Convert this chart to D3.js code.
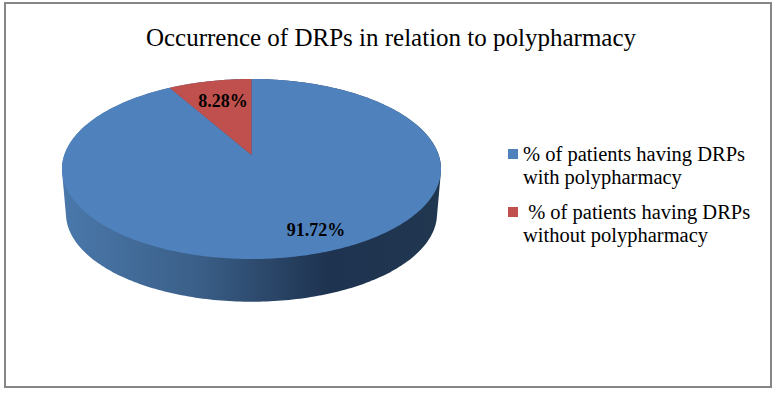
<!DOCTYPE html>
<html>
<head>
<meta charset="utf-8">
<script src="https://cdn.jsdelivr.net/npm/d3@7"></script>
<style>
    html, body { margin: 0; padding: 0; background: #fff; }
    svg { display: block; }
    text { font-family: "Liberation Serif", serif; fill: #000; }
</style>
</head>
<body>
<div id="box-div"></div>
<script>
const titleText = 'Occurrence of DRPs in relation to polypharmacy';
const categories = ['with', 'without'];
const values = [91.72, 8.28];
const valueLabels = ['91.72%', '8.28%'];
const legendLines = [
    ['% of patients having DRPs', 'with polypharmacy'],
    [' % of patients having DRPs', 'without polypharmacy']
];
const colors = ['#4f81bd', '#c0504d'];

let dms = { width: 777, height: 393 };

const box = d3.select('#box-div').append('svg')
    .attr('width', dms.width)
    .attr('height', dms.height)

// frame
box.append('rect')
    .attr('x', 5).attr('y', 3)
    .attr('width', 766).attr('height', 384)
    .attr('fill', '#fff')
    .attr('stroke', '#868686')
    .attr('stroke-width', 2)

box.append('text')
    .attr('x', 391).attr('y', 46)
    .attr('text-anchor', 'middle')
    .style('font-size', '25px')
    .text(titleText)

// pie is drawn in perspective: a circle mapped on to the tilted plane
const pie3d = { cx: 251.5, apexY: 155, k: -0.1556, a: 63.71, c: 187.2, depth: 44.6, shrink: 0.979 };
const project = angle => {
    const u = Math.sin(angle), v = -Math.cos(angle);
    const w = 1 + pie3d.k * v;
    return [pie3d.cx + pie3d.c * u / w, (pie3d.apexY + pie3d.a * v) / w];
};
const lower = p => [
    pie3d.cx + pie3d.shrink * (p[0] - pie3d.cx),
    169 + pie3d.depth + pie3d.shrink * (p[1] - 169)
];
const degs = d3.range(0, 360, 1).map(d => d * Math.PI / 180);
const rim = degs.map(project);
const side = d3.polygonHull(rim.concat(rim.map(lower)));

const line = d3.line();

const defs = box.append('defs');
const grad = defs.append('linearGradient')
    .attr('id', 'side-grad')
    .attr('gradientUnits', 'userSpaceOnUse')
    .attr('x1', 62).attr('x2', 441).attr('y1', 0).attr('y2', 0);
[[0, '#4a78ab'], [0.35, '#3b6089'], [0.7, '#1e3350'], [1, '#21364f']].forEach(s => {
    grad.append('stop').attr('offset', s[0]).attr('stop-color', s[1]);
});

box.append('path')
    .attr('d', line(side) + 'Z')
    .attr('fill', 'url(#side-grad)')

const arcs = d3.pie().sort(null)(values);
const slicePath = d => {
    const n = Math.ceil((d.endAngle - d.startAngle) * 60);
    const pts = d3.range(n + 1).map(i => project(d.startAngle + (d.endAngle - d.startAngle) * i / n));
    return line([[pie3d.cx, pie3d.apexY], ...pts]) + 'Z';
};
box.selectAll('.slice')
    .data(arcs)
    .join('path')
    .attr('class', 'slice')
    .attr('d', slicePath)
    .attr('fill', (d, i) => colors[i])

// value labels
const labelPos = [[316, 236], [223, 107]];
box.selectAll('.value')
    .data(valueLabels)
    .join('text')
    .attr('class', 'value')
    .attr('x', (d, i) => labelPos[i][0])
    .attr('y', (d, i) => labelPos[i][1])
    .attr('text-anchor', 'middle')
    .style('font-size', '18px')
    .style('font-weight', 'bold')
    .text(d => d)

// legend
const legend = box.selectAll('.legend')
    .data(categories)
    .join('g')
    .attr('class', 'legend')
    .attr('transform', (d, i) => `translate(508, ${149 + i * 58})`)
legend.append('rect')
    .attr('width', 10).attr('height', 10)
    .attr('fill', (d, i) => colors[i])
legend.each(function (d, i) {
    const g = d3.select(this);
    legendLines[i].forEach((t, j) => {
        g.append('text')
            .attr('x', 15)
            .attr('y', 11.5 + j * 23)
            .style('white-space', 'pre')
            .style('font-size', '20.5px')
            .text(t);
    });
});
</script>
</body>
</html>
